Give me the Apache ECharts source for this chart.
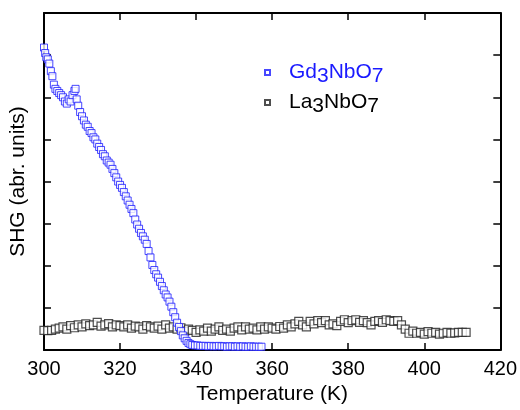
<!DOCTYPE html>
<html>
<head>
<meta charset="utf-8">
<script src="https://cdn.jsdelivr.net/npm/echarts@6/dist/echarts.min.js"></script>
<style>
    html, body { margin: 0; padding: 0; background: #fff; }
    #chart { width: 520px; height: 410px; }
</style>
</head>
<body>
<div id="chart"></div>
<script>
    // 温度 (K) 与 SHG 强度
    const gdT = [300.0, 300.3, 300.6, 301.0, 301.4, 301.8, 302.2, 302.6, 303.0, 303.5, 304.0, 304.5, 305.0, 305.5, 306.0, 306.5,
        307.0, 307.5, 308.0, 308.3, 308.6, 309.0, 309.5, 310.0, 310.5, 311.0, 311.5, 312.0, 312.5, 313.0, 313.5, 314.0,
        314.5, 315.0, 315.5, 316.0, 316.5, 317.0, 317.5, 318.0, 318.5, 319.0, 319.5, 320.0, 320.5, 321.0, 321.5, 322.0,
        322.5, 323.0, 323.5, 324.0, 324.5, 325.0, 325.5, 326.0, 326.5, 327.0, 327.5, 328.0, 328.5, 329.0, 329.5, 330.0,
        330.5, 331.0, 331.5, 332.0, 332.5, 333.0, 333.5, 334.0, 334.5, 335.0, 335.5, 336.0, 336.5, 337.0, 337.5, 338.0,
        338.5, 339.0, 339.7, 340.4, 341.1, 341.8, 342.5, 343.2, 343.9, 344.6, 345.3, 346.0, 346.7, 347.4, 348.1, 348.8,
        349.5, 350.2, 350.9, 351.6, 352.3, 353.0, 353.7, 354.4, 355.1, 355.8, 356.5, 357.2];
    const gdV = [7.18, 7.05, 6.95, 6.9, 6.8, 6.62, 6.5, 6.3, 6.2, 6.15, 6.1, 6.05, 6.0, 5.9, 5.85, 5.95,
        5.9, 6.05, 6.15, 6.2, 5.95, 5.8, 5.65, 5.55, 5.45, 5.35, 5.3, 5.2, 5.15, 5.05, 5.0, 4.9,
        4.82, 4.75, 4.65, 4.6, 4.5, 4.45, 4.4, 4.3, 4.2, 4.1, 4.0, 3.92, 3.85, 3.75, 3.65, 3.55,
        3.45, 3.35, 3.25, 3.1, 2.98, 2.88, 2.78, 2.7, 2.62, 2.52, 2.35, 2.2, 2.02, 1.9, 1.8, 1.72,
        1.62, 1.52, 1.42, 1.32, 1.25, 1.15, 1.03, 0.9, 0.78, 0.65, 0.55, 0.45, 0.35, 0.28, 0.22, 0.17,
        0.14, 0.12, 0.11, 0.11, 0.1, 0.1, 0.1, 0.09, 0.1, 0.09, 0.09, 0.1, 0.09, 0.09, 0.08, 0.09,
        0.09, 0.08, 0.09, 0.08, 0.09, 0.08, 0.08, 0.09, 0.08, 0.08, 0.08, 0.08];

    const laT = [300, 301, 302, 303, 304, 305, 306, 307, 308, 309, 310, 311, 312, 313, 314, 315, 316, 317, 318, 319,
        320, 321, 322, 323, 324, 325, 326, 327, 328, 329, 330, 331, 332, 333, 334, 335, 336, 337, 338, 339,
        340, 341, 342, 343, 344, 345, 346, 347, 348, 349, 350, 351, 352, 353, 354, 355, 356, 357, 358, 359,
        360, 361, 362, 363, 364, 365, 366, 367, 368, 369, 370, 371, 372, 373, 374, 375, 376, 377, 378, 379,
        380, 381, 382, 383, 384, 385, 386, 387, 388, 389, 390, 391, 392, 393, 394, 395, 396, 397, 398, 399,
        400, 401, 402, 403, 404, 405, 406, 407, 408, 409, 410, 411];
    const laV = [0.47, 0.46, 0.47, 0.5, 0.52, 0.55, 0.5, 0.58, 0.53, 0.6, 0.55, 0.62, 0.58, 0.6, 0.66, 0.57, 0.6, 0.63, 0.55, 0.6,
        0.58, 0.55, 0.6, 0.52, 0.57, 0.55, 0.5, 0.58, 0.55, 0.52, 0.57, 0.5, 0.6, 0.52, 0.55, 0.5, 0.53, 0.45, 0.5, 0.47,
        0.42, 0.48, 0.45, 0.52, 0.45, 0.5, 0.55, 0.47, 0.5, 0.45, 0.52, 0.55, 0.48, 0.55, 0.5, 0.52, 0.48, 0.55, 0.5, 0.55,
        0.52, 0.5, 0.56, 0.52, 0.6, 0.55, 0.62, 0.68, 0.6, 0.55, 0.68, 0.62, 0.7, 0.65, 0.7, 0.6, 0.62, 0.58, 0.68, 0.72,
        0.65, 0.7, 0.72, 0.66, 0.7, 0.65, 0.6, 0.68, 0.7, 0.66, 0.72, 0.7, 0.68, 0.7, 0.6, 0.5, 0.4, 0.45, 0.4, 0.42,
        0.38, 0.44, 0.4, 0.42, 0.38, 0.4, 0.42, 0.4, 0.41, 0.42, 0.42, 0.42];

    const font = '"Liberation Sans", Arial, sans-serif';
    const gdData = gdT.map((t, i) => [t, gdV[i]]);
    const laData = laT.map((t, i) => [t, laV[i]]);

    // 坐标轴公共样式：刻度朝内，黑色边框
    const frame = {
        axisLine: { show: true, onZero: false, lineStyle: { color: '#000', width: 2 } },
        axisTick: { show: true, inside: true, length: 7, lineStyle: { color: '#000', width: 1.5 } },
        splitLine: { show: false }
    };

    const myChart = echarts.init(document.getElementById('chart'));
    const option = {
        backgroundColor: '#fff',
        animation: false,
        grid: { left: 43, right: 17, top: 13, bottom: 57 },
        legend: {
            orient: 'vertical',
            left: 259,
            top: 57,
            itemGap: 5,
            itemWidth: 5,
            itemHeight: 5,
            icon: 'rect',
            data: ['Gd3NbO7', 'La3NbO7'],
            formatter: function (name) {
                const c = name === 'Gd3NbO7' ? 'b' : 'k';
                return '{gap|}{' + c + '|' + name.slice(0, 2) + '}{' + c + 's|3}{' + c + '|NbO}{' + c + 's|7}';
            },
            textStyle: {
                fontFamily: font,
                rich: {
                    gap: { width: 14 },
                    b: { color: '#1a1aff', fontSize: 21, fontFamily: font },
                    bs: { color: '#1a1aff', fontSize: 21, fontFamily: font, padding: [8, 0, 0, 0] },
                    k: { color: '#000', fontSize: 21, fontFamily: font },
                    ks: { color: '#000', fontSize: 21, fontFamily: font, padding: [8, 0, 0, 0] }
                }
            }
        },
        xAxis: [
            Object.assign({
                type: 'value',
                position: 'bottom',
                min: 300,
                max: 420,
                interval: 20,
                name: 'Temperature (K)',
                nameLocation: 'middle',
                nameGap: 32,
                nameTextStyle: { fontFamily: font, fontSize: 21, color: '#000' },
                axisLabel: { fontFamily: font, fontSize: 20, color: '#000', margin: 9 }
            }, frame),
            Object.assign({
                type: 'value',
                position: 'top',
                min: 300,
                max: 420,
                interval: 20,
                axisLabel: { show: false }
            }, frame)
        ],
        yAxis: [
            Object.assign({
                type: 'value',
                position: 'left',
                min: 0,
                max: 8,
                interval: 1,
                name: 'SHG (abr. units)',
                nameLocation: 'middle',
                nameGap: 15,
                nameTextStyle: { fontFamily: font, fontSize: 21, color: '#000' },
                axisLabel: { show: false }
            }, frame),
            Object.assign({
                type: 'value',
                position: 'right',
                min: 0,
                max: 8,
                interval: 1,
                axisLabel: { show: false }
            }, frame)
        ],
        series: [
            {
                name: 'La3NbO7',
                type: 'scatter',
                symbol: 'rect',
                symbolSize: 8,
                itemStyle: { color: '#fff', borderColor: '#222', borderWidth: 1.2 },
                data: laData
            },
            {
                name: 'Gd3NbO7',
                type: 'scatter',
                symbol: 'rect',
                symbolSize: 7,
                itemStyle: { color: '#fff', borderColor: '#1a1aff', borderWidth: 1 },
                data: gdData
            }
        ]
    };
    myChart.setOption(option);
</script>
</body>
</html>
